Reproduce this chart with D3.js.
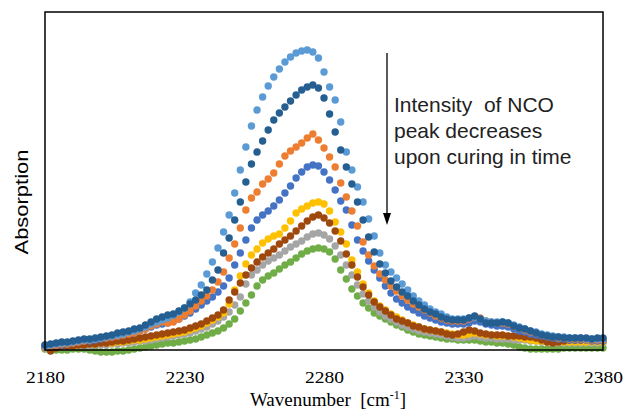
<!DOCTYPE html>
<html>
<head>
<meta charset="utf-8">
<script src="https://cdn.jsdelivr.net/npm/d3@7"></script>
<style>
  body { margin: 0; background: #fff; }
  svg { display: block; }
</style>
</head>
<body>
<svg width="624" height="409"></svg>
<script>

// wavenumber grid of the spectra (cm-1)
const wavenumbers = [
  2180,2182,2184,2186,2188,2190,2192,2194,2196,2198,
  2200,2202,2204,2206,2208,2210,2212,2214,2216,2218,
  2220,2222,2224,2226,2228,2230,2232,2234,2236,2238,
  2240,2242,2244,2246,2248,2250,2252,2254,2256,2258,
  2260,2262,2264,2266,2268,2270,2272,2274,2276,2278,
  2280,2282,2284,2286,2288,2290,2292,2294,2296,2298,
  2300,2302,2304,2306,2308,2310,2312,2314,2316,2318,
  2320,2322,2324,2326,2328,2330,2332,2334,2336,2338,
  2340,2342,2344,2346,2348,2350,2352,2354,2356,2358,
  2360,2362,2364,2366,2368,2370,2372,2374,2376,2378,
  2380
];

// absorption (arbitrary units), one spectrum per curing time
const spec1 = [
  4,5,6,7,7,8,9,10,10,11,
  12,13,14,15,16,18,19,21,23,26,
  28,30,32,35,38,42,48,57,65,76,
  88,102,118,135,157,180,203,224,240,253,
  264,273,281,288,293,297,299,300,298,292,
  278,263,250,228,198,180,163,148,131,114,
  97,85,78,72,66,60,54,49,45,41,
  38,36,33,31,31,31,32,33,31,29,
  28,28,28,27,25,23,21,19,18,16,
  15,14,13,13,12,12,12,11,11,11,
  11
];
const spec2 = [
  5,6,7,8,8,9,10,11,11,12,
  13,14,15,17,18,19,21,22,25,28,
  31,33,35,36,39,42,46,50,55,60,
  70,80,97,112,130,148,168,186,198,209,
  220,230,237,243,249,255,260,263,265,262,
  252,236,218,200,183,166,148,130,113,98,
  86,77,69,63,58,54,49,45,41,38,
  36,33,31,30,30,30,32,34,31,27,
  27,27,28,27,24,22,21,19,17,15,
  14,13,13,12,12,12,12,12,11,12,
  12
];
const spec3 = [
  3,4,5,6,6,7,8,9,10,11,
  12,12,13,14,15,16,17,19,21,24,
  26,28,27,28,31,35,39,44,49,54,
  60,68,78,92,106,122,140,152,158,166,
  171,177,186,194,199,203,207,212,216,210,
  202,193,183,167,153,139,124,108,95,84,
  76,70,64,59,54,50,46,43,40,37,
  34,32,30,29,29,29,31,33,32,29,
  28,27,27,26,24,22,20,18,17,15,
  14,13,12,12,11,11,11,10,10,10,
  10
];
const spec4 = [
  3,4,5,5,6,7,8,9,9,10,
  11,12,13,14,15,16,17,19,21,23,
  25,26,27,29,31,34,37,41,45,49,
  53,58,64,72,85,97,110,122,130,135,
  139,144,150,157,164,172,178,183,185,184,
  178,170,160,149,140,125,110,99,89,80,
  72,64,57,51,47,43,40,37,34,32,
  30,28,27,26,26,26,27,29,28,26,
  25,24,24,23,21,19,18,16,15,14,
  13,12,11,11,10,10,10,10,9,9,
  9
];
const spec5 = [
  5,5,5,5,5,5,5,6,6,6,
  7,7,7,8,8,9,10,10,11,12,
  13,14,15,16,17,18,20,22,24,27,
  30,33,37,46,60,74,86,95,101,107,
  111,114,116,122,129,137,141,144,147,148,
  146,139,128,118,106,90,78,66,57,49,
  44,40,36,33,30,27,25,23,21,20,
  19,18,17,16,15,15,16,17,16,15,
  15,14,14,14,13,12,11,10,9,9,
  8,8,8,8,8,8,8,8,8,8,
  8
];
const spec6 = [
  3,-1,2,4,4,4,5,5,6,6,
  7,7,8,9,9,10,11,12,13,14,
  15,16,17,18,19,20,22,24,26,29,
  32,35,40,50,58,67,75,82,88,93,
  97,101,106,110,114,119,124,129,133,135,
  132,127,119,109,96,85,73,63,55,48,
  43,39,35,31,29,27,24,23,21,20,
  19,18,16,15,16,18,20,19,17,16,
  15,15,15,14,14,14,13,13,12,10,
  8,7,8,9,10,10,10,10,10,10,
  10
];
const spec7 = [
  2,2,3,3,3,3,4,4,4,5,
  5,5,6,6,7,7,8,9,9,10,
  11,12,13,14,15,16,17,19,21,23,
  26,29,33,38,45,53,66,75,80,85,
  89,92,95,99,103,106,109,113,116,117,
  115,111,104,95,85,75,65,56,49,43,
  38,34,31,28,25,23,21,19,18,17,
  16,15,14,13,12,12,13,14,13,12,
  12,11,11,11,10,10,10,9,9,8,
  8,7,7,7,7,7,7,7,7,7,
  7
];
const spec8 = [
  1,1,0,0,0,1,1,1,0,-1,
  -2,-2,-2,-1,-1,0,1,2,3,4,
  5,6,7,7,8,9,10,11,13,15,
  17,19,22,26,31,39,47,55,64,70,
  74,77,81,85,88,92,96,99,101,102,
  101,98,91,80,71,61,54,47,42,37,
  34,31,28,25,23,20,18,16,15,14,
  13,12,11,11,10,10,10,10,9,8,
  8,7,7,6,5,3,2,1,1,1,
  1,1,1,2,2,2,2,2,2,2,
  2
];

const spectra = [spec1, spec2, spec3, spec4, spec5, spec6, spec7, spec8];
const colors = ["#5B9BD5", "#255E91", "#ED7D31", "#4472C4", "#FFC000", "#9E480E", "#A5A5A5", "#70AD47"];
// later spectra go underneath, like in the original
const drawOrder = [7, 6, 4, 5, 3, 2, 0, 1];

const xTicks = [2180, 2230, 2280, 2330, 2380];
const note = ["Intensity  of NCO", "peak decreases", "upon curing in time"];

const svg = d3.select("svg");
const margin = {top: 12, right: 21, bottom: 59, left: 45};
const width = +svg.attr("width") - margin.left - margin.right;
const height = +svg.attr("height") - margin.top - margin.bottom;

const x = d3.scaleLinear()
  .domain([2180, 2380])
  .range([margin.left, margin.left + width]);

const y = d3.scaleLinear()
  .domain([0, 338])
  .range([margin.top + height, margin.top]);

// dots
drawOrder.forEach(function(k) {
  svg.append("g")
      .attr("fill", colors[k])
    .selectAll("circle")
    .data(spectra[k])
    .join("circle")
      .attr("cx", function(d, i) { return x(wavenumbers[i]); })
      .attr("cy", function(d) { return y(d); })
      .attr("r", 3.7);
});

// frame
svg.append("rect")
  .attr("x", margin.left)
  .attr("y", margin.top)
  .attr("width", width)
  .attr("height", height)
  .attr("fill", "none")
  .attr("stroke", "#000")
  .attr("stroke-width", 1.5);

// x axis labels
svg.append("g")
    .attr("transform", "translate(0," + (margin.top + height) + ")")
    .call(d3.axisBottom(x).tickValues(xTicks).tickSize(0).tickPadding(21).tickFormat(d3.format("d")))
    .call(function(g) { g.select(".domain").remove(); })
  .selectAll("text")
    .attr("font-family", "Liberation Serif, Times New Roman, serif")
    .attr("font-size", 17)
    .attr("fill", "#000")
    .attr("textLength", 39)
    .attr("lengthAdjust", "spacingAndGlyphs");

const xlabel = svg.append("text")
  .attr("x", 328)
  .attr("y", 406)
  .attr("text-anchor", "middle")
  .attr("font-family", "Liberation Serif, Times New Roman, serif")
  .attr("font-size", 19)
  .attr("fill", "#000");
xlabel.append("tspan").text("Wavenumber\u00a0\u00a0[cm");
xlabel.append("tspan").attr("font-size", 12).attr("dy", -7).text("-1");
xlabel.append("tspan").attr("dy", 7).text("]");

svg.append("text")
  .attr("transform", "translate(28,202) rotate(-90)")
  .attr("text-anchor", "middle")
  .attr("font-family", "Liberation Sans, Arial, sans-serif")
  .attr("font-size", 19)
  .attr("fill", "#000")
  .attr("textLength", 105)
  .attr("lengthAdjust", "spacingAndGlyphs")
  .text("Absorption");

// annotation with arrow
svg.append("line")
  .attr("x1", 387).attr("y1", 53)
  .attr("x2", 387).attr("y2", 215)
  .attr("stroke", "#000")
  .attr("stroke-width", 1.3);

svg.append("path")
  .attr("d", "M383,213 L391,213 L387,225 Z")
  .attr("fill", "#000");

svg.append("g")
  .selectAll("text")
  .data(note)
  .join("text")
    .attr("x", 394)
    .attr("y", function(d, i) { return 112 + 26 * i; })
    .attr("font-family", "Liberation Sans, Arial, sans-serif")
    .attr("font-size", 21)
    .attr("fill", "#222")
    .attr("xml:space", "preserve")
    .text(function(d) { return d; });

</script>
</body>
</html>
